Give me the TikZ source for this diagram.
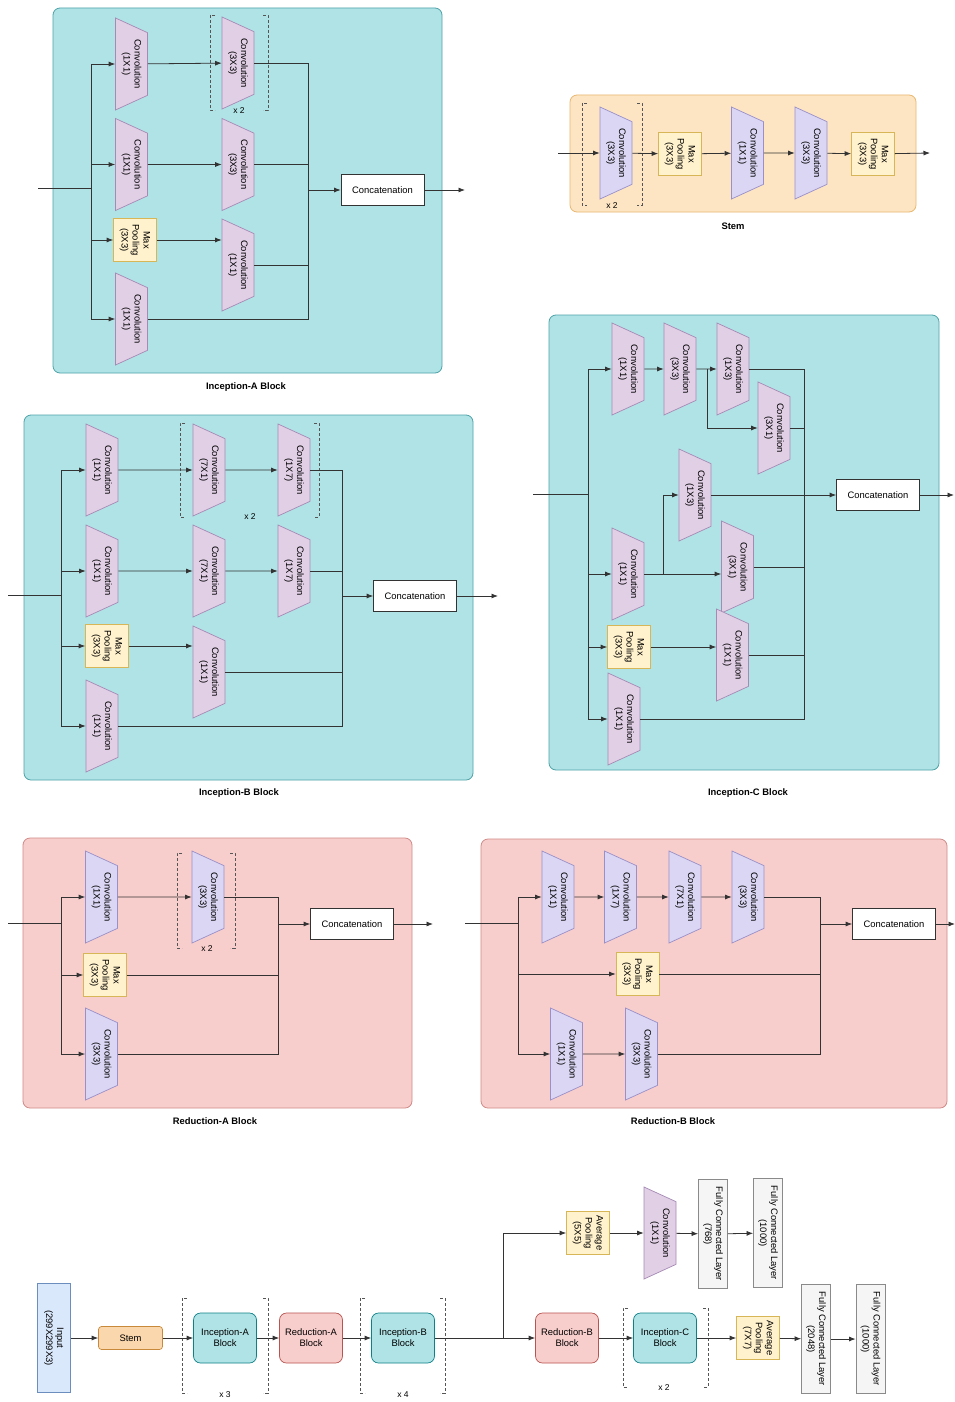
\documentclass[tikz,border=0pt]{standalone}
\usepackage{fontspec}
\setmainfont{Liberation Sans}
\usetikzlibrary{shapes.geometric, arrows.meta}

\definecolor{tealfill}{HTML}{B0E3E6}
\definecolor{tealline}{HTML}{4FA3A8}
\definecolor{redfill}{HTML}{F8CECC}
\definecolor{redline}{HTML}{D08A87}
\definecolor{stemfill}{HTML}{FDE5C4}
\definecolor{stemline}{HTML}{E8B870}
\definecolor{convfill}{HTML}{E1CFE6}
\definecolor{convline}{HTML}{A58AB4}
\definecolor{lavfill}{HTML}{DAD6F3}
\definecolor{lavline}{HTML}{9A8FC8}
\definecolor{poolfill}{HTML}{FFF2CC}
\definecolor{poolline}{HTML}{D6B656}
\definecolor{inpfill}{HTML}{DAE8FC}
\definecolor{inpline}{HTML}{6C8EBF}
\definecolor{fcfill}{HTML}{F5F5F5}
\definecolor{fcline}{HTML}{8A8A8A}
\definecolor{boxstem}{HTML}{FAD7AC}
\definecolor{boxstemline}{HTML}{C88A3A}
\definecolor{boxteal}{HTML}{0E8088}
\definecolor{boxred}{HTML}{B85450}
\definecolor{wirecol}{HTML}{333333}
\definecolor{repgray}{HTML}{555555}

% dotted repeat bracket: x1, y1, x2, y2
\newcommand{\repbracket}[4]{%
  \draw[repline] (#1+5,#2) -- (#1,#2) -- (#1,#4) -- (#1+5,#4);
  \draw[repline] (#3-5,#2) -- (#3,#2) -- (#3,#4) -- (#3-5,#4);}

\begin{document}
\begin{tikzpicture}[x=1pt, y=-1pt,
    every node/.style={font=\fontsize{9.4}{11}\selectfont},
    conv/.style={trapezium, trapezium left angle=56, trapezium right angle=56,
        trapezium stretches body=true, rotate=-90, minimum width=92pt, minimum height=32pt,
        inner sep=1pt, draw=convline, fill=convfill, line width=0.7pt, align=center},
    convR/.style={conv, draw=lavline, fill=lavfill},
    pool/.style={rectangle, rotate=-90, minimum width=43pt, minimum height=43pt, inner sep=1pt,
        draw=poolline, fill=poolfill, line width=0.7pt, align=center},
    fc/.style={rectangle, rotate=-90, minimum width=109pt, minimum height=29pt, inner sep=1pt,
        draw=fcline, fill=fcfill, line width=0.8pt, align=center},
    concat/.style={rectangle, minimum width=83pt, minimum height=31pt, draw=wirecol, fill=white, line width=0.7pt},
    blk/.style={rectangle, rounded corners=7pt, minimum width=63pt, minimum height=50pt, line width=0.7pt, align=center},
    tealblock/.style={fill=tealfill, draw=tealline, rounded corners=7pt, line width=0.8pt},
    redblock/.style={fill=redfill, draw=redline, rounded corners=7pt, line width=0.8pt},
    stemblock/.style={fill=stemfill, draw=stemline, rounded corners=7pt, line width=0.8pt},
    blocktitle/.style={font=\fontsize{9.4}{11}\selectfont\bfseries},
    replabel/.style={font=\fontsize{8.5}{10}\selectfont},
    wire/.style={draw=wirecol, line width=0.8pt},
    arr/.style={wire, -{Latex[length=6.5pt, width=5pt]}},
    repline/.style={draw=repgray, densely dashed, line width=0.7pt},
]
\fill[white] (0,0) rectangle (955,1402);
\useasboundingbox (0,0) rectangle (955,1402);

% Inception-A Block
\draw[tealblock] (53,8) rectangle (442,373);
\node[blocktitle] (tA) at (246,387) {Inception-A Block};
\coordinate (inA) at (38,188);
\coordinate (splitA) at (91,188);
\coordinate (mergeA) at (308,190);
\coordinate (outA) at (465,190);
\node[conv] (a11) at (131.5,64) {Convolution\\(1X1)};
\node[conv] (a21) at (131.5,164.5) {Convolution\\(1X1)};
\node[pool] (a31) at (135,240) {Max\\Pooling\\(3X3)};
\node[conv] (a41) at (131.5,319) {Convolution\\(1X1)};
\node[conv] (a12) at (238,63) {Convolution\\(3X3)};
\node[conv] (a22) at (238,164.5) {Convolution\\(3X3)};
\node[conv] (a32) at (238,265) {Convolution\\(1X1)};
\node[concat] (catA) at (382.5,190) {Concatenation};
\repbracket{210}{15}{268}{110}
\node[replabel] (repA) at (239,111) {x 2};
\draw[wire] (inA) -- (splitA);
\draw[arr] (splitA) |- (a11);
\draw[arr] (splitA) |- (a21);
\draw[arr] (splitA) |- (a31);
\draw[arr] (splitA) |- (a41);
\draw[arr] (a11) -- (a12);
\draw[arr] (a21) -- (a22);
\draw[arr] (a31) -- (a31 -| a32.south);
\draw[wire] (a12) -| (mergeA);
\draw[wire] (a22) -| (mergeA);
\draw[wire] (a32) -| (mergeA);
\draw[wire] (a41) -| (mergeA);
\draw[arr] (mergeA) -- (catA);
\draw[arr] (catA) -- (outA);

% Stem
\draw[stemblock] (570,95) rectangle (916,212);
\node[blocktitle] (tS) at (733,226) {Stem};
\coordinate (inS) at (558,153);
\coordinate (outS) at (930,153);
\node[convR] (s1) at (616,153) {Convolution\\(3X3)};
\node[pool] (s2) at (680,154) {Max\\Pooling\\(3X3)};
\node[convR] (s3) at (747.5,153) {Convolution\\(1X1)};
\node[convR] (s4) at (811,153) {Convolution\\(3X3)};
\node[pool] (s5) at (873,154) {Max\\Pooling\\(3X3)};
\repbracket{582}{103}{642}{205}
\node[replabel] (repS) at (612,206) {x 2};
\draw[arr] (inS) -- (s1);
\draw[arr] (s1) -- (s2);
\draw[arr] (s2) -- (s3);
\draw[arr] (s3) -- (s4);
\draw[arr] (s4) -- (s5);
\draw[arr] (s5) -- (outS);

% Inception-B Block
\draw[tealblock] (24,415) rectangle (473,780);
\node[blocktitle] (tB) at (239,793) {Inception-B Block};
\coordinate (inB) at (8,595);
\coordinate (splitB) at (61,595);
\coordinate (mergeB) at (342,596);
\coordinate (outB) at (498,596);
\node[conv] (b11) at (102,470) {Convolution\\(1X1)};
\node[conv] (b21) at (102,571) {Convolution\\(1X1)};
\node[pool] (b31) at (107,646) {Max\\Pooling\\(3X3)};
\node[conv] (b41) at (102,726) {Convolution\\(1X1)};
\node[conv] (b12) at (209,470) {Convolution\\(7X1)};
\node[conv] (b22) at (209,571) {Convolution\\(7X1)};
\node[conv] (b32) at (209,672) {Convolution\\(1X1)};
\node[conv] (b13) at (294,470) {Convolution\\(1X7)};
\node[conv] (b23) at (294,571) {Convolution\\(1X7)};
\node[concat] (catB) at (415,596) {Concatenation};
\repbracket{180}{423}{319}{517}
\node[replabel] (repB) at (250,517) {x 2};
\draw[wire] (inB) -- (splitB);
\draw[arr] (splitB) |- (b11);
\draw[arr] (splitB) |- (b21);
\draw[arr] (splitB) |- (b31);
\draw[arr] (splitB) |- (b41);
\draw[arr] (b11) -- (b12);
\draw[arr] (b12) -- (b13);
\draw[arr] (b21) -- (b22);
\draw[arr] (b22) -- (b23);
\draw[arr] (b31) -- (b31 -| b32.south);
\draw[wire] (b13) -| (mergeB);
\draw[wire] (b23) -| (mergeB);
\draw[wire] (b32) -| (mergeB);
\draw[wire] (b41) -| (mergeB);
\draw[arr] (mergeB) -- (catB);
\draw[arr] (catB) -- (outB);

% Inception-C Block
\draw[tealblock] (549,315) rectangle (939,770);
\node[blocktitle] (tC) at (748,793) {Inception-C Block};
\coordinate (inC) at (533,494);
\coordinate (splitC) at (588,494);
\coordinate (mergeC) at (804,495);
\coordinate (outC) at (954,495);
\coordinate (forkC1) at (707,369);
\coordinate (forkC2) at (663,574);
\node[conv] (c11) at (628,369) {Convolution\\(1X1)};
\node[conv] (c12) at (680,369) {Convolution\\(3X3)};
\node[conv] (c13) at (733,369) {Convolution\\(1X3)};
\node[conv] (c14) at (774,428) {Convolution\\(3X1)};
\node[conv] (c21) at (628,574) {Convolution\\(1X1)};
\node[conv] (c22) at (695,495) {Convolution\\(1X3)};
\node[conv] (c23) at (737.5,567) {Convolution\\(3X1)};
\node[pool] (c31) at (629,647) {Max\\Pooling\\(3X3)};
\node[conv] (c32) at (732.5,655) {Convolution\\(1X1)};
\node[conv] (c41) at (624,719) {Convolution\\(1X1)};
\node[concat] (catC) at (878,495) {Concatenation};
\draw[wire] (inC) -- (splitC);
\draw[arr] (splitC) |- (c11);
\draw[arr] (splitC) |- (c21);
\draw[arr] (splitC) |- (c31);
\draw[arr] (splitC) |- (c41);
\draw[arr] (c11) -- (c12);
\draw[arr] (c12) -- (c13);
\draw[arr] (forkC1) |- (c14);
\draw[wire] (c21) -- (forkC2);
\draw[arr] (forkC2) |- (c22);
\draw[arr] (forkC2) -- (forkC2 -| c23.south);
\draw[arr] (c31) -- (c31 -| c32.south);
\draw[wire] (c13) -| (mergeC);
\draw[wire] (c14) -| (mergeC);
\draw[wire] (c22) -- (mergeC);
\draw[wire] (c23) -| (mergeC);
\draw[wire] (c32) -| (mergeC);
\draw[wire] (c41) -| (mergeC);
\draw[arr] (mergeC) -- (catC);
\draw[arr] (catC) -- (outC);

% Reduction-A Block
\draw[redblock] (23,838) rectangle (412,1108);
\node[blocktitle] (tRA) at (215,1121) {Reduction-A Block};
\coordinate (inRA) at (8,923);
\coordinate (splitRA) at (61,923);
\coordinate (mergeRA) at (278,924);
\coordinate (outRA) at (433,924);
\node[convR] (r11) at (101.5,897) {Convolution\\(1X1)};
\node[pool] (r21) at (105,975) {Max\\Pooling\\(3X3)};
\node[convR] (r31) at (101.5,1054) {Convolution\\(3X3)};
\node[convR] (r12) at (208,897) {Convolution\\(3X3)};
\node[concat] (catRA) at (352,924) {Concatenation};
\repbracket{177}{853}{235}{948}
\node[replabel] (repRA) at (207,949) {x 2};
\draw[wire] (inRA) -- (splitRA);
\draw[arr] (splitRA) |- (r11);
\draw[arr] (splitRA) |- (r21);
\draw[arr] (splitRA) |- (r31);
\draw[arr] (r11) -- (r12);
\draw[wire] (r12) -| (mergeRA);
\draw[wire] (r21) -| (mergeRA);
\draw[wire] (r31) -| (mergeRA);
\draw[arr] (mergeRA) -- (catRA);
\draw[arr] (catRA) -- (outRA);

% Reduction-B Block
\draw[redblock] (481,839) rectangle (947,1108);
\node[blocktitle] (tRB) at (673,1121) {Reduction-B Block};
\coordinate (inRB) at (465,923);
\coordinate (splitRB) at (518,923);
\coordinate (mergeRB) at (820,924);
\coordinate (outRB) at (955,924);
\node[convR] (q11) at (558,897) {Convolution\\(1X1)};
\node[convR] (q12) at (620.5,897) {Convolution\\(1X7)};
\node[convR] (q13) at (685,897) {Convolution\\(7X1)};
\node[convR] (q14) at (748,897) {Convolution\\(3X3)};
\node[pool] (q21) at (637.5,974) {Max\\Pooling\\(3X3)};
\node[convR] (q31) at (566.5,1054) {Convolution\\(1X1)};
\node[convR] (q32) at (641.5,1054) {Convolution\\(3X3)};
\node[concat] (catRB) at (894,924) {Concatenation};
\draw[wire] (inRB) -- (splitRB);
\draw[arr] (splitRB) |- (q11);
\draw[arr] (splitRB) |- (q21);
\draw[arr] (splitRB) |- (q31);
\draw[arr] (q11) -- (q12);
\draw[arr] (q12) -- (q13);
\draw[arr] (q13) -- (q14);
\draw[arr] (q31) -- (q32);
\draw[wire] (q14) -| (mergeRB);
\draw[wire] (q21) -| (mergeRB);
\draw[wire] (q32) -| (mergeRB);
\draw[arr] (mergeRB) -- (catRB);
\draw[arr] (catRB) -- (outRB);

% Full network
\node[rectangle, rotate=-90, minimum width=109pt, minimum height=33pt, inner sep=1pt,
    draw=inpline, fill=inpfill, line width=0.8pt, align=center] (inp) at (54,1338) {Input\\(299X299X3)};
\node[blk, rounded corners=3pt, minimum width=64pt, minimum height=23pt, draw=boxstemline, fill=boxstem] (stm) at (130.5,1338) {Stem};
\node[blk, draw=boxteal, fill=tealfill] (biA) at (225,1338) {Inception-A\\Block};
\node[blk, draw=boxred, fill=redfill] (brA) at (311,1338) {Reduction-A\\Block};
\node[blk, draw=boxteal, fill=tealfill] (biB) at (403,1338) {Inception-B\\Block};
\coordinate (splitM) at (503,1338);
\node[blk, draw=boxred, fill=redfill] (brB) at (567,1338) {Reduction-B\\Block};
\node[blk, draw=boxteal, fill=tealfill] (biC) at (665,1338) {Inception-C\\Block};
\node[pool] (ap7) at (758,1338) {Average\\Pooling\\(7X7)};
\node[fc] (fc1) at (816,1339) {Fully Connected Layer\\(2048)};
\node[fc] (fc2) at (870.5,1339) {Fully Connected Layer\\(1000)};
\node[pool] (ap5) at (588,1233) {Average\\Pooling\\(5X5)};
\node[conv] (cv1) at (660,1233) {Convolution\\(1X1)};
\node[fc] (fc3) at (713,1234) {Fully Connected Layer\\(768)};
\node[fc] (fc4) at (768,1233) {Fully Connected Layer\\(1000)};
\repbracket{182}{1298}{268}{1393}
\node[replabel] (rep3) at (225,1395) {x 3};
\repbracket{360}{1298}{445}{1393}
\node[replabel] (rep4) at (403,1395) {x 4};
\repbracket{623}{1308}{708}{1387}
\node[replabel] (rep2) at (664,1388) {x 2};
\draw[arr] (inp) -- (stm);
\draw[arr] (stm) -- (biA);
\draw[arr] (biA) -- (brA);
\draw[arr] (brA) -- (biB);
\draw[wire] (biB) -- (splitM);
\draw[arr] (splitM) -- (brB);
\draw[arr] (splitM) |- (ap5);
\draw[arr] (ap5) -- (cv1);
\draw[arr] (cv1) -- (fc3);
\draw[arr] (fc3) -- (fc4);
\draw[arr] (brB) -- (biC);
\draw[arr] (biC) -- (ap7);
\draw[arr] (ap7) -- (fc1);
\draw[arr] (fc1) -- (fc2);
\end{tikzpicture}
\end{document}
